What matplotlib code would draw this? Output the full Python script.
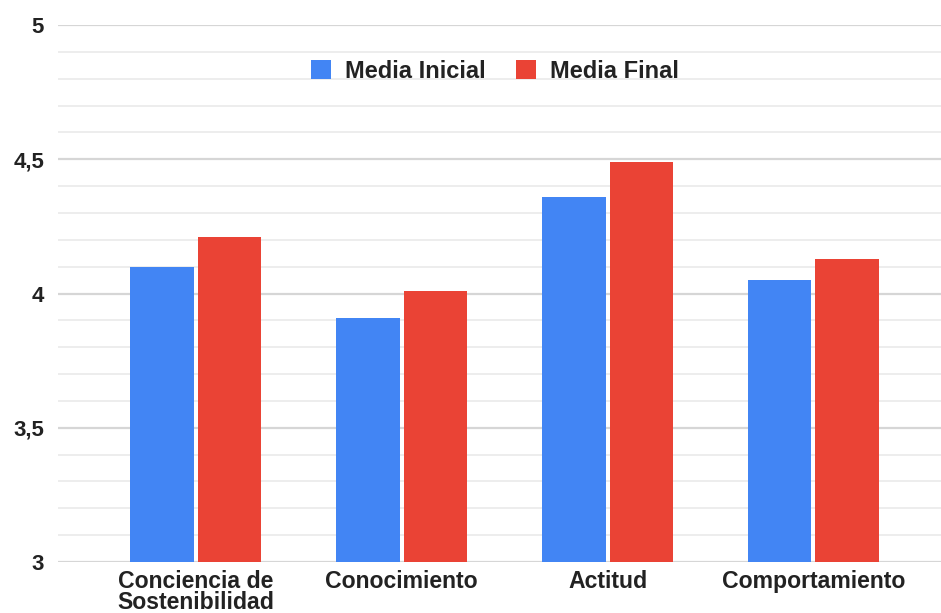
import matplotlib
matplotlib.use("Agg")
import matplotlib.pyplot as plt
import numpy as np

categories = ["Conciencia de\nSostenibilidad", "Conocimiento", "Actitud", "Comportamiento"]
media_inicial = [4.10, 3.91, 4.36, 4.05]
media_final = [4.21, 4.01, 4.49, 4.13]
series_names = ["Media Inicial", "Media Final"]
y_ticks = [3, 3.5, 4, 4.5, 5]
y_tick_labels = ["3", "3,5", "4", "4,5", "5"]

BLUE = "#4285F4"
RED = "#EA4335"
TEXT = "#222222"

plt.rcParams["font.family"] = ["Liberation Sans", "DejaVu Sans"]
plt.rcParams["font.weight"] = "bold"

fig = plt.figure(figsize=(9.41, 6.13), dpi=100)
ax = fig.add_axes([58 / 941, 51 / 613, 1 - 58 / 941, 537 / 613])

x = np.arange(len(categories))
w = 0.308
gap = 0.01
ax.bar(x - w / 2 - gap, media_inicial, width=w, bottom=0, color=BLUE, zorder=3,
       label=series_names[0])
ax.bar(x + w / 2 + gap, media_final, width=w, bottom=0, color=RED, zorder=3,
       label=series_names[1])

ax.set_ylim(3, 5)
ax.set_xlim(-0.67, 3.62)

ax.set_yticks(y_ticks)
ax.set_yticklabels(y_tick_labels)
ax.set_yticks(np.arange(3, 5.001, 0.1), minor=True)
ax.grid(axis="y", which="major", color="#d6d6d6", lw=1.6, zorder=0)
ax.grid(axis="y", which="minor", color="#e8e8e8", lw=1.1, zorder=0)
ax.tick_params(axis="y", which="both", length=0, pad=10, labelsize=16, labelcolor=TEXT)

ax.set_xticks(x)
ax.set_xticklabels(categories, linespacing=0.85)
ax.tick_params(axis="x", length=0, pad=6, labelsize=16.6, labelcolor=TEXT)

for s in ax.spines.values():
    s.set_visible(False)

leg = fig.legend(loc="center", bbox_to_anchor=(495 / 941, 1 - 71 / 613), ncol=2,
                 frameon=False, fontsize=17, handlelength=0.85, handleheight=0.85,
                 handletextpad=0.6, columnspacing=1.3)
for t in leg.get_texts():
    t.set_color(TEXT)

fig.savefig("out.png", dpi=100, facecolor="white")
